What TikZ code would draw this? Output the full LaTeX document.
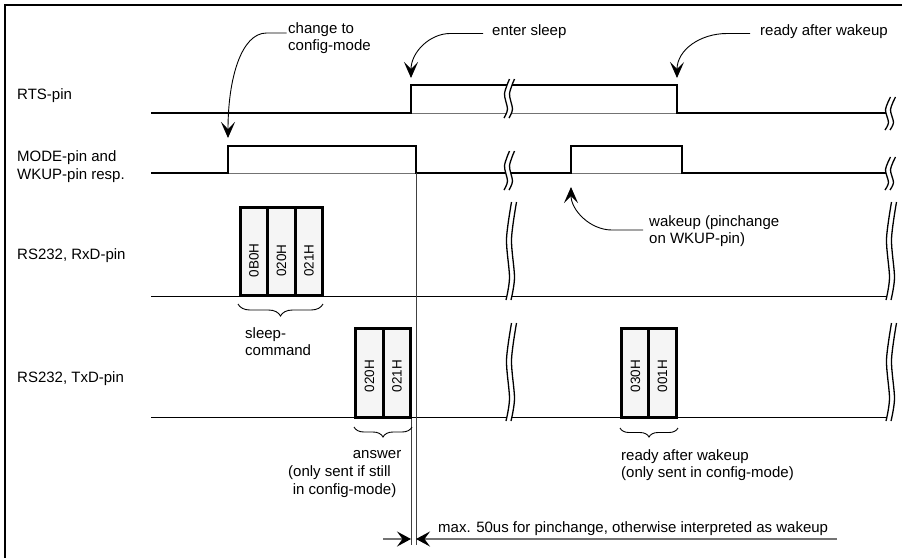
\documentclass[tikz,border=0pt]{standalone}
\usepackage{fontspec}
\setmainfont{Liberation Sans}
\usetikzlibrary{arrows.meta,decorations.pathreplacing,calc}

\newcommand\brkmark[3]{%
  \pgfmathsetmacro\brkscale{#3/100}%
  \begin{scope}[shift={(#1,#2)},yscale=\brkscale]
    \fill[white] plot[smooth] coordinates {(0.5,0) (-4.5,38) (-1.5,77) (-5,100)}
      -- plot[smooth] coordinates {(0,100) (3.5,77) (0.5,38) (5.5,0)} -- cycle;
    \draw[brkline] plot[smooth] coordinates {(0.5,0) (-4.5,38) (-1.5,77) (-5,100)};
    \draw[brkline] plot[smooth] coordinates {(5.5,0) (0.5,38) (3.5,77) (0,100)};
  \end{scope}}

\begin{document}
\begin{tikzpicture}[x=1pt,y=-1pt,
  txt/.style={font=\fontsize{15}{17.2}\selectfont, inner sep=0pt, align=left},
  sig/.style={line width=2pt, line join=miter, line cap=butt},
  ghost/.style={line width=0.7pt, black!55},
  wire/.style={line width=1pt},
  brkline/.style={line width=1.3pt},
  ann/.style={line width=0.9pt, -{Stealth[length=16pt,width=14pt,inset=7pt]}},
  byte/.style={draw, line width=3pt, fill=black!4, rotate=90, minimum width=88.5pt,
    minimum height=27.5pt, inner sep=0pt, font=\fontsize{13.5}{15}\selectfont},
  brc/.style={decorate, decoration={brace, amplitude=#1}, line width=0.9pt},
  ext/.style={line width=0.8pt, black!75},
  dim/.style={line width=1.4pt, black!55},
  dimtip/.style={-{Stealth[length=14pt,width=15pt,inset=5.5pt,color=black]}},
]
\useasboundingbox (0,0) rectangle (902,558);
% frame
\draw[line width=2pt] (5,558) -- (5,5) -- (902,5);

% row labels
\node[txt, anchor=base west] (lrts) at (17,99) {RTS-pin};
\node[txt, anchor=north west] (lmode) at (17,149.7) {\strut MODE-pin and\\WKUP-pin resp.};
\node[txt, anchor=base west] (lrxd) at (17,259.5) {RS232, RxD-pin};
\node[txt, anchor=base west] (ltxd) at (17,382.5) {RS232, TxD-pin};

% signals
\draw[ghost] (411,113) -- (677,113);
\draw[sig] (151,113) -- (411,113) -- (411,85) -- (677,85) -- (677,113) -- (888,113);
\draw[ghost] (228,173) -- (416,173);
\draw[ghost] (571,173) -- (682,173);
\draw[sig] (151,173) -- (228,173) -- (228,146) -- (416,146) -- (416,173) -- (571,173)
  -- (571,146) -- (682,146) -- (682,173) -- (888,173);
\draw[wire] (151,296) -- (888,296);
\draw[wire] (151,417) -- (888,417);

% extension lines
\draw[ext] (416,173) -- (416,545);
\draw[ext] (411,417) -- (411,545);

% breaks
\brkmark{509}{79}{39}
\brkmark{890}{97}{33}
\brkmark{509}{151}{39}
\brkmark{890}{157}{33}
\brkmark{511}{202}{98}
\brkmark{891}{202}{98}
\brkmark{511}{323}{98}
\brkmark{891}{323}{98}

% bytes
\node[byte] (b1) at (254,251.5) {0B0H\hspace*{18pt}};
\node[byte] (b2) at (281.5,251.5) {020H\hspace*{18pt}};
\node[byte] (b3) at (309,251.5) {021H\hspace*{18pt}};
\node[byte] (b4) at (369.5,372.8) {020H\hspace*{7pt}};
\node[byte] (b5) at (397,372.8) {021H\hspace*{7pt}};
\node[byte] (b6) at (635.5,372.8) {030H\hspace*{7pt}};
\node[byte] (b7) at (662.5,372.8) {001H\hspace*{7pt}};

% braces
\draw[brc=12] (323,304) -- (238,304);
\draw[brc=10] (412,427) -- (354,427);
\draw[brc=9] (678,428) -- (620,428);

% texts
\node[txt, anchor=north west] (scmd) at (245,326.5) {\strut sleep-\\command};
\node[txt, anchor=north west, font=\fontsize{15}{18}\selectfont] (answ) at (288,445.7)
  {\hspace*{64.7pt}\strut answer\\(only sent if still\\\hspace*{4.7pt}in config-mode)};
\node[txt, anchor=north west] (rdy2) at (621,448) {\strut ready after wakeup\\(only sent in config-mode)};
\node[txt, anchor=base west] (maxn) at (438,532) {max. 50us for pinchange, otherwise interpreted as wakeup};

% annotations
\node[txt, anchor=north west] (chg) at (288,21) {\strut change to\\config-mode};
\node[txt, anchor=base west] (slp) at (492,35) {enter sleep};
\node[txt, anchor=base west] (rdy) at (760,35) {ready after wakeup};
\node[txt, anchor=north west] (wak) at (649,214.5) {\strut wakeup (pinchange\\on WKUP-pin)};

\coordinate (t1) at (228,138);
\coordinate (t2) at (411,78);
\coordinate (t3) at (677,78);
\coordinate (t4) at (571,187);

\draw[ann] ($(chg.north west)+(-1.5,12)$) -- ++(-20,0) .. controls +(-25,0) and +(0,-60) .. (t1);
\draw[ann] ($(slp.base west)+(-9,-1.5)$) -- ++(-33,0) .. controls +(-20,0) and +(0,-26) .. (t2);
\draw[ann] ($(rdy.base west)+(-10,-1.5)$) -- ++(-23,0) .. controls +(-27,0) and +(0,-28) .. (t3);
\draw[ann] ($(wak.north west)+(-6,15.5)$) -- ++(-31,0) .. controls +(-22,0) and +(0,23) .. (t4);

% dimension
\coordinate (dla) at (383,539);
\coordinate (dl) at (411,539);
\coordinate (dra) at (837,539);
\coordinate (dr) at (416,539);
\draw[dim, dimtip] (dla) -- (dl);
\draw[dim, dimtip] (dra) -- (dr);
\end{tikzpicture}
\end{document}
